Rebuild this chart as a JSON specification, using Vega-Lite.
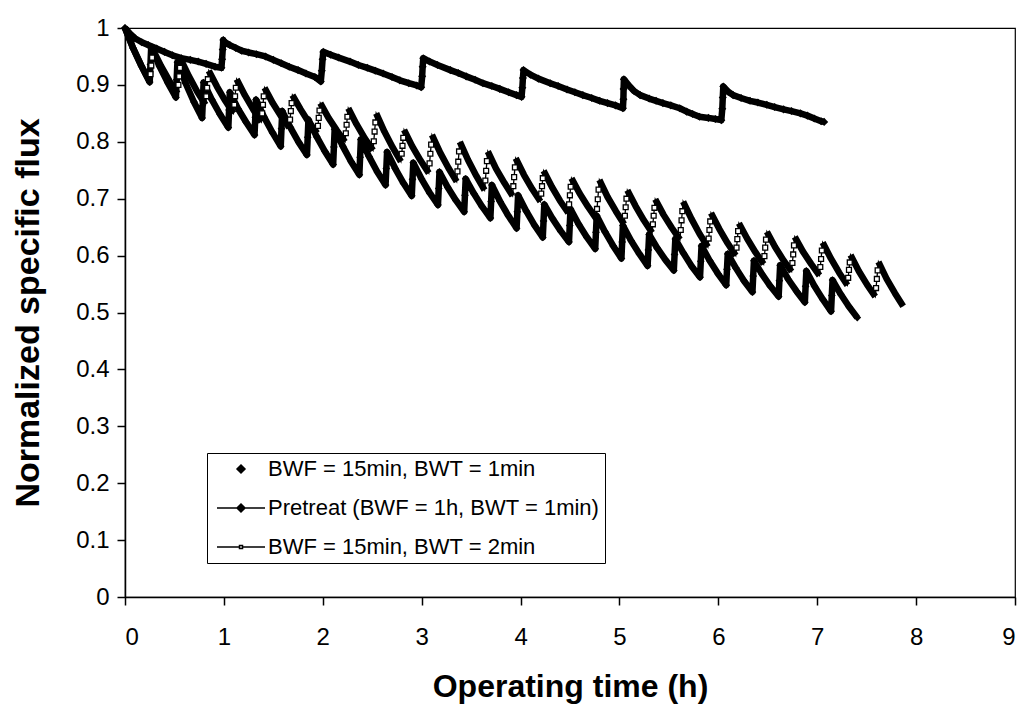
{
"$schema": "https://vega.github.io/schema/vega-lite/v6.json",
"width": 890, "height": 569,
"autosize": {"type": "none"},
"padding": {"left": 125, "top": 28, "right": 8, "bottom": 114},
"background": "white",
"config": {
  "view": {"stroke": "black", "strokeWidth": 1.2},
  "font": "Liberation Sans",
  "axis": {"domainColor": "black", "domainWidth": 1.5, "tickColor": "black", "tickWidth": 1.5, "tickSize": 8,
    "labelFont": "Liberation Sans", "labelFontSize": 24, "labelColor": "black",
    "titleFont": "Liberation Sans", "titleFontWeight": "bold", "titleColor": "black", "grid": false}
},
"datasets": {
"p": [
{"t":0,"y":1.0},{"t":0.05,"y":0.99},{"t":0.10,"y":0.982},{"t":0.17,"y":0.975},{"t":0.235,"y":0.970},{"t":0.32,"y":0.964},{"t":0.40,"y":0.958},{"t":0.48,"y":0.952},{"t":0.57,"y":0.947},{"t":0.66,"y":0.944},{"t":0.74,"y":0.941},{"t":0.82,"y":0.937},{"t":0.91,"y":0.932},{"t":0.975,"y":0.930},{"t":0.982,"y":0.945},{"t":0.988,"y":0.962},{"t":0.994,"y":0.979},
{"t":1.0,"y":0.976},{"t":1.06,"y":0.970},{"t":1.12,"y":0.965},{"t":1.18,"y":0.960},{"t":1.25,"y":0.957},{"t":1.33,"y":0.954},{"t":1.42,"y":0.950},{"t":1.50,"y":0.944},{"t":1.58,"y":0.938},{"t":1.66,"y":0.932},{"t":1.75,"y":0.926},{"t":1.83,"y":0.920},{"t":1.92,"y":0.914},{"t":1.98,"y":0.906},{"t":1.99,"y":0.925},{"t":1.998,"y":0.945},{"t":2.005,"y":0.958},
{"t":2.08,"y":0.953},{"t":2.16,"y":0.948},{"t":2.275,"y":0.941},{"t":2.36,"y":0.935},{"t":2.45,"y":0.930},{"t":2.53,"y":0.925},{"t":2.61,"y":0.920},{"t":2.70,"y":0.914},{"t":2.78,"y":0.908},{"t":2.87,"y":0.903},{"t":2.95,"y":0.899},{"t":2.995,"y":0.896},{"t":3.005,"y":0.915},{"t":3.01,"y":0.932},{"t":3.016,"y":0.947},
{"t":3.08,"y":0.941},{"t":3.16,"y":0.935},{"t":3.29,"y":0.926},{"t":3.37,"y":0.921},{"t":3.45,"y":0.915},{"t":3.54,"y":0.909},{"t":3.62,"y":0.903},{"t":3.71,"y":0.898},{"t":3.79,"y":0.893},{"t":3.88,"y":0.887},{"t":3.96,"y":0.882},{"t":4.01,"y":0.879},{"t":4.018,"y":0.895},{"t":4.024,"y":0.912},{"t":4.03,"y":0.926},
{"t":4.10,"y":0.918},{"t":4.18,"y":0.911},{"t":4.30,"y":0.903},{"t":4.38,"y":0.898},{"t":4.47,"y":0.892},{"t":4.55,"y":0.887},{"t":4.63,"y":0.882},{"t":4.72,"y":0.877},{"t":4.80,"y":0.872},{"t":4.88,"y":0.868},{"t":4.96,"y":0.864},{"t":5.035,"y":0.859},{"t":5.04,"y":0.875},{"t":5.042,"y":0.893},{"t":5.045,"y":0.910},
{"t":5.10,"y":0.898},{"t":5.15,"y":0.889},{"t":5.21,"y":0.882},{"t":5.30,"y":0.876},{"t":5.37,"y":0.872},{"t":5.44,"y":0.868},{"t":5.52,"y":0.864},{"t":5.61,"y":0.859},{"t":5.68,"y":0.853},{"t":5.74,"y":0.849},{"t":5.81,"y":0.844},{"t":5.90,"y":0.842},{"t":5.97,"y":0.840},{"t":6.03,"y":0.838},{"t":6.04,"y":0.858},{"t":6.045,"y":0.878},{"t":6.05,"y":0.897},
{"t":6.10,"y":0.888},{"t":6.15,"y":0.882},{"t":6.23,"y":0.877},{"t":6.32,"y":0.872},{"t":6.40,"y":0.869},{"t":6.49,"y":0.865},{"t":6.57,"y":0.861},{"t":6.66,"y":0.857},{"t":6.74,"y":0.854},{"t":6.83,"y":0.850},{"t":6.90,"y":0.846},{"t":6.97,"y":0.841},{"t":7.04,"y":0.836},{"t":7.07,"y":0.835}
],
"a": [
{"t":0,"y":1.0},{"t":0.083,"y":0.964},{"t":0.167,"y":0.933},{"t":0.25,"y":0.905},{"t":0.2575,"y":0.936},
{"t":0.265,"y":0.967},{"t":0.348,"y":0.933},{"t":0.432,"y":0.904},{"t":0.515,"y":0.878},{"t":0.5225,"y":0.909},
{"t":0.53,"y":0.940},{"t":0.613,"y":0.903},{"t":0.697,"y":0.870},{"t":0.78,"y":0.842},{"t":0.7875,"y":0.873},
{"t":0.795,"y":0.904},{"t":0.878,"y":0.874},{"t":0.962,"y":0.848},{"t":1.045,"y":0.825},{"t":1.0525,"y":0.856},
{"t":1.06,"y":0.887},{"t":1.143,"y":0.858},{"t":1.227,"y":0.834},{"t":1.31,"y":0.812},{"t":1.3175,"y":0.843},
{"t":1.325,"y":0.874},{"t":1.408,"y":0.843},{"t":1.492,"y":0.816},{"t":1.575,"y":0.792},{"t":1.5825,"y":0.823},
{"t":1.59,"y":0.854},{"t":1.673,"y":0.825},{"t":1.757,"y":0.799},{"t":1.84,"y":0.777},{"t":1.8475,"y":0.808},
{"t":1.855,"y":0.839},{"t":1.938,"y":0.809},{"t":2.022,"y":0.783},{"t":2.105,"y":0.760},{"t":2.1125,"y":0.791},
{"t":2.12,"y":0.822},{"t":2.203,"y":0.792},{"t":2.287,"y":0.765},{"t":2.37,"y":0.742},{"t":2.3775,"y":0.773},
{"t":2.385,"y":0.804},{"t":2.468,"y":0.774},{"t":2.552,"y":0.747},{"t":2.635,"y":0.724},{"t":2.6425,"y":0.753},
{"t":2.65,"y":0.782},{"t":2.733,"y":0.753},{"t":2.817,"y":0.727},{"t":2.90,"y":0.705},{"t":2.9075,"y":0.734},
{"t":2.915,"y":0.763},{"t":2.998,"y":0.735},{"t":3.082,"y":0.710},{"t":3.165,"y":0.689},{"t":3.1725,"y":0.718},
{"t":3.18,"y":0.747},{"t":3.263,"y":0.720},{"t":3.347,"y":0.697},{"t":3.43,"y":0.677},{"t":3.4375,"y":0.706},
{"t":3.445,"y":0.735},{"t":3.528,"y":0.709},{"t":3.612,"y":0.686},{"t":3.695,"y":0.666},{"t":3.7025,"y":0.695},
{"t":3.71,"y":0.724},{"t":3.793,"y":0.695},{"t":3.877,"y":0.670},{"t":3.96,"y":0.648},{"t":3.9675,"y":0.677},
{"t":3.975,"y":0.706},{"t":4.058,"y":0.678},{"t":4.142,"y":0.653},{"t":4.225,"y":0.632},{"t":4.2325,"y":0.661},
{"t":4.24,"y":0.690},{"t":4.323,"y":0.665},{"t":4.407,"y":0.643},{"t":4.49,"y":0.624},{"t":4.4975,"y":0.653},
{"t":4.505,"y":0.682},{"t":4.588,"y":0.655},{"t":4.672,"y":0.632},{"t":4.755,"y":0.612},{"t":4.7625,"y":0.641},
{"t":4.77,"y":0.670},{"t":4.853,"y":0.642},{"t":4.937,"y":0.617},{"t":5.02,"y":0.595},{"t":5.0275,"y":0.624},
{"t":5.035,"y":0.653},{"t":5.118,"y":0.626},{"t":5.202,"y":0.603},{"t":5.285,"y":0.582},{"t":5.2925,"y":0.610},
{"t":5.30,"y":0.637},{"t":5.383,"y":0.613},{"t":5.467,"y":0.592},{"t":5.55,"y":0.574},{"t":5.5575,"y":0.602},
{"t":5.565,"y":0.629},{"t":5.648,"y":0.604},{"t":5.732,"y":0.581},{"t":5.815,"y":0.562},{"t":5.8225,"y":0.590},
{"t":5.83,"y":0.617},{"t":5.913,"y":0.591},{"t":5.997,"y":0.568},{"t":6.08,"y":0.548},{"t":6.0875,"y":0.576},
{"t":6.095,"y":0.603},{"t":6.178,"y":0.578},{"t":6.262,"y":0.555},{"t":6.345,"y":0.536},{"t":6.3525,"y":0.564},
{"t":6.36,"y":0.591},{"t":6.443,"y":0.567},{"t":6.527,"y":0.546},{"t":6.61,"y":0.528},{"t":6.6175,"y":0.556},
{"t":6.625,"y":0.583},{"t":6.708,"y":0.558},{"t":6.792,"y":0.537},{"t":6.875,"y":0.518},{"t":6.8825,"y":0.546},
{"t":6.89,"y":0.573},{"t":6.973,"y":0.546},{"t":7.057,"y":0.523},{"t":7.14,"y":0.502},{"t":7.1475,"y":0.530},
{"t":7.155,"y":0.557},{"t":7.238,"y":0.532},{"t":7.322,"y":0.510},{"t":7.405,"y":0.491}
],
"c": [
{"c":0,"ph":"F","t":0,"y":1.0},{"c":0,"ph":"F","t":0.083,"y":0.964},{"c":0,"ph":"F","t":0.167,"y":0.933},{"c":0,"ph":"F","t":0.25,"y":0.905},{"c":0,"ph":"B","t":0.258,"y":0.919},{"c":0,"ph":"B","t":0.266,"y":0.934},{"c":0,"ph":"B","t":0.274,"y":0.948},
{"c":1,"ph":"F","t":0.282,"y":0.962},{"c":1,"ph":"F","t":0.365,"y":0.933},{"c":1,"ph":"F","t":0.449,"y":0.907},{"c":1,"ph":"F","t":0.532,"y":0.885},{"c":1,"ph":"B","t":0.540,"y":0.900},{"c":1,"ph":"B","t":0.548,"y":0.915},{"c":1,"ph":"B","t":0.556,"y":0.930},
{"c":2,"ph":"F","t":0.564,"y":0.945},{"c":2,"ph":"F","t":0.647,"y":0.915},{"c":2,"ph":"F","t":0.731,"y":0.888},{"c":2,"ph":"F","t":0.814,"y":0.865},{"c":2,"ph":"B","t":0.822,"y":0.880},{"c":2,"ph":"B","t":0.830,"y":0.895},{"c":2,"ph":"B","t":0.838,"y":0.910},
{"c":3,"ph":"F","t":0.847,"y":0.925},{"c":3,"ph":"F","t":0.930,"y":0.897},{"c":3,"ph":"F","t":1.014,"y":0.872},{"c":3,"ph":"F","t":1.097,"y":0.850},{"c":3,"ph":"B","t":1.105,"y":0.865},{"c":3,"ph":"B","t":1.113,"y":0.880},{"c":3,"ph":"B","t":1.121,"y":0.895},
{"c":4,"ph":"F","t":1.129,"y":0.910},{"c":4,"ph":"F","t":1.212,"y":0.882},{"c":4,"ph":"F","t":1.296,"y":0.857},{"c":4,"ph":"F","t":1.379,"y":0.835},{"c":4,"ph":"B","t":1.387,"y":0.850},{"c":4,"ph":"B","t":1.395,"y":0.865},{"c":4,"ph":"B","t":1.403,"y":0.880},
{"c":5,"ph":"F","t":1.411,"y":0.895},{"c":5,"ph":"F","t":1.494,"y":0.868},{"c":5,"ph":"F","t":1.578,"y":0.845},{"c":5,"ph":"F","t":1.661,"y":0.825},{"c":5,"ph":"B","t":1.669,"y":0.839},{"c":5,"ph":"B","t":1.677,"y":0.854},{"c":5,"ph":"B","t":1.685,"y":0.868},
{"c":6,"ph":"F","t":1.693,"y":0.882},{"c":6,"ph":"F","t":1.776,"y":0.857},{"c":6,"ph":"F","t":1.860,"y":0.834},{"c":6,"ph":"F","t":1.943,"y":0.815},{"c":6,"ph":"B","t":1.951,"y":0.828},{"c":6,"ph":"B","t":1.959,"y":0.842},{"c":6,"ph":"B","t":1.967,"y":0.855},
{"c":7,"ph":"F","t":1.975,"y":0.868},{"c":7,"ph":"F","t":2.058,"y":0.842},{"c":7,"ph":"F","t":2.142,"y":0.820},{"c":7,"ph":"F","t":2.225,"y":0.800},{"c":7,"ph":"B","t":2.233,"y":0.815},{"c":7,"ph":"B","t":2.241,"y":0.830},{"c":7,"ph":"B","t":2.249,"y":0.844},
{"c":8,"ph":"F","t":2.258,"y":0.859},{"c":8,"ph":"F","t":2.341,"y":0.831},{"c":8,"ph":"F","t":2.425,"y":0.806},{"c":8,"ph":"F","t":2.508,"y":0.785},{"c":8,"ph":"B","t":2.516,"y":0.801},{"c":8,"ph":"B","t":2.524,"y":0.818},{"c":8,"ph":"B","t":2.532,"y":0.834},
{"c":9,"ph":"F","t":2.540,"y":0.850},{"c":9,"ph":"F","t":2.623,"y":0.818},{"c":9,"ph":"F","t":2.707,"y":0.790},{"c":9,"ph":"F","t":2.790,"y":0.765},{"c":9,"ph":"B","t":2.798,"y":0.779},{"c":9,"ph":"B","t":2.806,"y":0.793},{"c":9,"ph":"B","t":2.814,"y":0.807},
{"c":10,"ph":"F","t":2.822,"y":0.821},{"c":10,"ph":"F","t":2.905,"y":0.792},{"c":10,"ph":"F","t":2.989,"y":0.767},{"c":10,"ph":"F","t":3.072,"y":0.745},{"c":10,"ph":"B","t":3.080,"y":0.762},{"c":10,"ph":"B","t":3.088,"y":0.779},{"c":10,"ph":"B","t":3.096,"y":0.795},
{"c":11,"ph":"F","t":3.104,"y":0.812},{"c":11,"ph":"F","t":3.187,"y":0.781},{"c":11,"ph":"F","t":3.271,"y":0.754},{"c":11,"ph":"F","t":3.354,"y":0.730},{"c":11,"ph":"B","t":3.362,"y":0.748},{"c":11,"ph":"B","t":3.370,"y":0.765},{"c":11,"ph":"B","t":3.378,"y":0.783},
{"c":12,"ph":"F","t":3.386,"y":0.800},{"c":12,"ph":"F","t":3.469,"y":0.768},{"c":12,"ph":"F","t":3.553,"y":0.740},{"c":12,"ph":"F","t":3.636,"y":0.715},{"c":12,"ph":"B","t":3.644,"y":0.732},{"c":12,"ph":"B","t":3.652,"y":0.749},{"c":12,"ph":"B","t":3.660,"y":0.766},
{"c":13,"ph":"F","t":3.669,"y":0.783},{"c":13,"ph":"F","t":3.752,"y":0.753},{"c":13,"ph":"F","t":3.836,"y":0.728},{"c":13,"ph":"F","t":3.919,"y":0.705},{"c":13,"ph":"B","t":3.927,"y":0.722},{"c":13,"ph":"B","t":3.935,"y":0.738},{"c":13,"ph":"B","t":3.943,"y":0.755},
{"c":14,"ph":"F","t":3.951,"y":0.771},{"c":14,"ph":"F","t":4.034,"y":0.742},{"c":14,"ph":"F","t":4.118,"y":0.717},{"c":14,"ph":"F","t":4.201,"y":0.695},{"c":14,"ph":"B","t":4.209,"y":0.709},{"c":14,"ph":"B","t":4.217,"y":0.722},{"c":14,"ph":"B","t":4.225,"y":0.736},
{"c":15,"ph":"F","t":4.233,"y":0.749},{"c":15,"ph":"F","t":4.316,"y":0.721},{"c":15,"ph":"F","t":4.400,"y":0.696},{"c":15,"ph":"F","t":4.483,"y":0.675},{"c":15,"ph":"B","t":4.491,"y":0.690},{"c":15,"ph":"B","t":4.499,"y":0.706},{"c":15,"ph":"B","t":4.507,"y":0.721},
{"c":16,"ph":"F","t":4.515,"y":0.736},{"c":16,"ph":"F","t":4.598,"y":0.709},{"c":16,"ph":"F","t":4.682,"y":0.686},{"c":16,"ph":"F","t":4.765,"y":0.665},{"c":16,"ph":"B","t":4.773,"y":0.682},{"c":16,"ph":"B","t":4.781,"y":0.699},{"c":16,"ph":"B","t":4.789,"y":0.716},
{"c":17,"ph":"F","t":4.797,"y":0.733},{"c":17,"ph":"F","t":4.880,"y":0.703},{"c":17,"ph":"F","t":4.964,"y":0.678},{"c":17,"ph":"F","t":5.047,"y":0.655},{"c":17,"ph":"B","t":5.055,"y":0.670},{"c":17,"ph":"B","t":5.063,"y":0.685},{"c":17,"ph":"B","t":5.071,"y":0.700},
{"c":18,"ph":"F","t":5.080,"y":0.715},{"c":18,"ph":"F","t":5.163,"y":0.687},{"c":18,"ph":"F","t":5.247,"y":0.662},{"c":18,"ph":"F","t":5.330,"y":0.640},{"c":18,"ph":"B","t":5.338,"y":0.655},{"c":18,"ph":"B","t":5.346,"y":0.670},{"c":18,"ph":"B","t":5.354,"y":0.684},
{"c":19,"ph":"F","t":5.362,"y":0.699},{"c":19,"ph":"F","t":5.445,"y":0.672},{"c":19,"ph":"F","t":5.529,"y":0.649},{"c":19,"ph":"F","t":5.612,"y":0.628},{"c":19,"ph":"B","t":5.620,"y":0.645},{"c":19,"ph":"B","t":5.628,"y":0.662},{"c":19,"ph":"B","t":5.636,"y":0.678},
{"c":20,"ph":"F","t":5.644,"y":0.695},{"c":20,"ph":"F","t":5.727,"y":0.665},{"c":20,"ph":"F","t":5.811,"y":0.638},{"c":20,"ph":"F","t":5.894,"y":0.615},{"c":20,"ph":"B","t":5.902,"y":0.630},{"c":20,"ph":"B","t":5.910,"y":0.645},{"c":20,"ph":"B","t":5.918,"y":0.660},
{"c":21,"ph":"F","t":5.926,"y":0.675},{"c":21,"ph":"F","t":6.009,"y":0.647},{"c":21,"ph":"F","t":6.093,"y":0.622},{"c":21,"ph":"F","t":6.176,"y":0.600},{"c":21,"ph":"B","t":6.184,"y":0.614},{"c":21,"ph":"B","t":6.192,"y":0.629},{"c":21,"ph":"B","t":6.200,"y":0.643},
{"c":22,"ph":"F","t":6.208,"y":0.657},{"c":22,"ph":"F","t":6.291,"y":0.630},{"c":22,"ph":"F","t":6.375,"y":0.606},{"c":22,"ph":"F","t":6.458,"y":0.585},{"c":22,"ph":"B","t":6.466,"y":0.599},{"c":22,"ph":"B","t":6.474,"y":0.614},{"c":22,"ph":"B","t":6.482,"y":0.628},
{"c":23,"ph":"F","t":6.491,"y":0.642},{"c":23,"ph":"F","t":6.574,"y":0.615},{"c":23,"ph":"F","t":6.658,"y":0.592},{"c":23,"ph":"F","t":6.741,"y":0.572},{"c":23,"ph":"B","t":6.749,"y":0.587},{"c":23,"ph":"B","t":6.757,"y":0.602},{"c":23,"ph":"B","t":6.765,"y":0.618},
{"c":24,"ph":"F","t":6.773,"y":0.633},{"c":24,"ph":"F","t":6.856,"y":0.607},{"c":24,"ph":"F","t":6.940,"y":0.585},{"c":24,"ph":"F","t":7.023,"y":0.565},{"c":24,"ph":"B","t":7.031,"y":0.580},{"c":24,"ph":"B","t":7.039,"y":0.594},{"c":24,"ph":"B","t":7.047,"y":0.609},
{"c":25,"ph":"F","t":7.055,"y":0.623},{"c":25,"ph":"F","t":7.138,"y":0.595},{"c":25,"ph":"F","t":7.222,"y":0.570},{"c":25,"ph":"F","t":7.305,"y":0.548},{"c":25,"ph":"B","t":7.313,"y":0.561},{"c":25,"ph":"B","t":7.321,"y":0.575},{"c":25,"ph":"B","t":7.329,"y":0.588},
{"c":26,"ph":"F","t":7.337,"y":0.601},{"c":26,"ph":"F","t":7.420,"y":0.573},{"c":26,"ph":"F","t":7.504,"y":0.549},{"c":26,"ph":"F","t":7.587,"y":0.528},{"c":26,"ph":"B","t":7.595,"y":0.543},{"c":26,"ph":"B","t":7.603,"y":0.559},{"c":26,"ph":"B","t":7.611,"y":0.574},
{"c":27,"ph":"F","t":7.619,"y":0.589},{"c":27,"ph":"F","t":7.702,"y":0.559},{"c":27,"ph":"F","t":7.786,"y":0.534},{"c":27,"ph":"F","t":7.869,"y":0.511}
]
},
"encoding": {
  "x": {"field": "t", "type": "quantitative", "scale": {"domain": [0, 9], "nice": false, "zero": false},
        "axis": {"title": "Operating time (h)", "values": [0,1,2,3,4,5,6,7,8,9], "format": "d", "labelPadding": 20, "titlePadding": 22, "titleFontSize": 32}},
  "y": {"field": "y", "type": "quantitative", "scale": {"domain": [0, 1], "nice": false, "zero": false},
        "axis": {"title": "Normalized specific flux", "values": [0,0.1,0.2,0.3,0.4,0.5,0.6,0.7,0.8,0.9,1], "format": "~g", "labelPadding": 8, "titlePadding": 30, "titleFontSize": 34}}
},
"layer": [
  {"data": {"name": "p"}, "mark": {"type": "line", "color": "black", "strokeWidth": 6.5, "strokeJoin": "round"}},
  {"data": {"name": "p"}, "mark": {"type": "point", "shape": "diamond", "filled": true, "color": "black", "size": 65, "opacity": 1}},
  {"data": {"name": "a"}, "mark": {"type": "line", "color": "black", "strokeWidth": 6.5, "strokeJoin": "round"}},
  {"data": {"name": "a"}, "mark": {"type": "point", "shape": "diamond", "filled": true, "color": "black", "size": 60, "opacity": 1}},
  {"data": {"name": "c"}, "mark": {"type": "line", "color": "black", "strokeWidth": 1.3}},
  {"data": {"name": "c"}, "transform": [{"filter": "datum.ph === 'F'"}], "mark": {"type": "line", "color": "black", "strokeWidth": 6.5, "strokeJoin": "round"}, "encoding": {"detail": {"field": "c", "type": "nominal"}}},
  {"data": {"name": "c"}, "transform": [{"filter": "datum.ph === 'B'"}], "mark": {"type": "point", "shape": "square", "filled": true, "fill": "white", "stroke": "black", "strokeWidth": 1.3, "size": 24, "opacity": 1}},
  {"data": {"values": [{"series": "BWF = 15min, BWT = 1min"}, {"series": "Pretreat (BWF = 1h, BWT = 1min)"}, {"series": "BWF = 15min, BWT = 2min"}]},
   "transform": [{"filter": "isValid(datum.t)"}],
   "mark": {"type": "point", "filled": true, "stroke": "black", "strokeWidth": 1.3, "opacity": 1},
   "encoding": {
     "shape": {"field": "series", "type": "nominal",
       "scale": {"domain": ["BWF = 15min, BWT = 1min", "Pretreat (BWF = 1h, BWT = 1min)", "BWF = 15min, BWT = 2min"],
                 "range": ["M0,-0.4L0.4,0L0,0.4L-0.4,0Z", "M-2.4,0L2.4,0M0,-0.4L0.4,0L0,0.4L-0.4,0Z", "M-2.4,0L-0.15,0M0.15,0L2.4,0M-0.15,-0.15L0.15,-0.15L0.15,0.15L-0.15,0.15Z"]},
       "legend": {"title": null, "orient": "none", "legendX": 82, "legendY": 425, "padding": 5, "symbolSize": 400, "symbolOffset": 18, "labelOffset": 16, "labelLimit": 0,
         "labelFont": "Liberation Sans", "labelFontSize": 22, "labelColor": "black", "rowPadding": 17, "strokeColor": "black", "fillColor": "white",
         "encode": {"symbols": {"update": {"stroke": {"value": "black"}, "strokeWidth": {"value": 1.3}}}}}},
     "fill": {"field": "series", "type": "nominal",
       "scale": {"domain": ["BWF = 15min, BWT = 1min", "Pretreat (BWF = 1h, BWT = 1min)", "BWF = 15min, BWT = 2min"], "range": ["black", "black", "white"]},
       "legend": {"title": null, "orient": "none", "legendX": 82, "legendY": 425, "padding": 5, "symbolSize": 400, "symbolOffset": 18, "labelOffset": 16, "labelLimit": 0,
         "labelFont": "Liberation Sans", "labelFontSize": 22, "labelColor": "black", "rowPadding": 17, "strokeColor": "black", "fillColor": "white",
         "encode": {"symbols": {"update": {"stroke": {"value": "black"}, "strokeWidth": {"value": 1.3}}}}}}
   }}
]
}
